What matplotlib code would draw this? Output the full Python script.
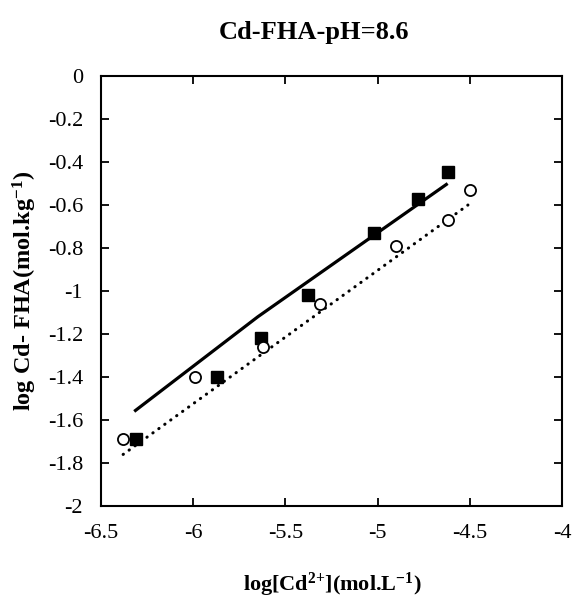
import numpy as np
from matplotlib import pyplot as plt
from matplotlib.ticker import FuncFormatter

plt.rcParams['font.family'] = ['Liberation Serif', 'DejaVu Serif']
plt.rcParams['mathtext.fontset'] = 'custom'
plt.rcParams['mathtext.rm'] = 'Liberation Serif:bold'
plt.rcParams['mathtext.it'] = 'Liberation Serif:bold'
plt.rcParams['mathtext.bf'] = 'Liberation Serif:bold'
plt.rcParams['mathtext.default'] = 'rm'
plt.rcParams['axes.unicode_minus'] = False

# measured points: filled squares / open circles
sq_x = [-6.31, -5.87, -5.63, -5.38, -5.02, -4.78, -4.62]
sq_y = [-1.69, -1.40, -1.22, -1.02, -0.73, -0.57, -0.445]
ci_x = [-6.38, -5.99, -5.62, -5.31, -4.90, -4.62, -4.50]
ci_y = [-1.69, -1.40, -1.26, -1.06, -0.79, -0.67, -0.53]

# model curves
fit_sq_x = [-6.32, -5.65, -4.62]
fit_sq_y = [-1.56, -1.12, -0.50]
fit_ci_x = [-6.38, -4.51]
fit_ci_y = [-1.76, -0.60]

x_ticks = [-6.5, -6, -5.5, -5, -4.5, -4]
y_ticks = [0, -0.2, -0.4, -0.6, -0.8, -1, -1.2, -1.4, -1.6, -1.8, -2]

fig = plt.figure(figsize=(5.74, 6.05), dpi=100)
ax = fig.add_axes([0.176, 0.1636, 0.803, 0.7107])

ax.plot(fit_sq_x, fit_sq_y, color='black', lw=2.3, solid_capstyle='butt', zorder=2)
ax.plot(fit_ci_x, fit_ci_y, color='black', lw=2.2, linestyle=(0, (0.1, 2.3)),
        dash_capstyle='round', zorder=2)
ax.plot(sq_x, sq_y, 's', color='black', ms=9, zorder=3)
ax.plot(ci_x, ci_y, 'o', mfc='white', mec='black', mew=1.3, ms=8, zorder=3)

ax.set_xlim(-6.5, -4)
ax.set_ylim(-2, 0)
ax.set_xticks(x_ticks)
ax.set_yticks(y_ticks)
ax.xaxis.set_major_formatter(FuncFormatter(lambda v, p: '%g' % round(v, 2)))
ax.yaxis.set_major_formatter(FuncFormatter(lambda v, p: '%g' % (round(v, 2) + 0.0)))
ax.tick_params(direction='in', length=6, width=1.3, labelsize=16,
               top=True, right=True)
ax.tick_params(axis='x', pad=13)
ax.tick_params(axis='y', pad=13)
for s in ax.spines.values():
    s.set_linewidth(1.5)

fig.text(314 / 574, 1 - 32 / 605, 'Cd-FHA-pH=8.6', ha='center', va='center',
         fontsize=19, fontweight='bold')
fig.text(332 / 574, 1 - 585 / 605, r'log[Cd$^{2{+}}$](mol.L$^{-1}$)', ha='center',
         va='center', fontsize=16, fontweight='bold')
fig.text(25 / 574, 1 - 291 / 605, r'log Cd- FHA(mol.kg$^{-1}$)', ha='center',
         va='center', rotation=90, fontsize=17.5, fontweight='bold')

fig.savefig('out.png', dpi=100)
